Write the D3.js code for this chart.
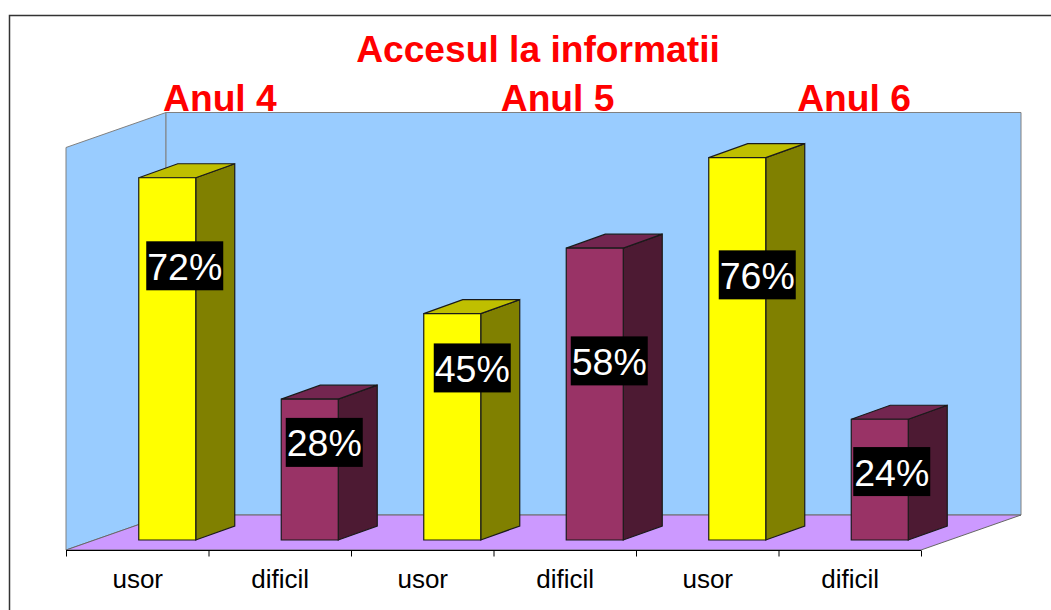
<!DOCTYPE html>
<html>
<head>
<meta charset="utf-8">
<style>
html,body{margin:0;padding:0;background:#fff;overflow:hidden}
svg{display:block}
text{font-family:"Liberation Sans",Arial,sans-serif}
</style>
<script src="https://cdn.jsdelivr.net/npm/d3@7/dist/d3.min.js"></script>
</head>
<body>
<svg id="chart" width="1051" height="610"></svg>
<script>
const categories = ["usor","dificil","usor","dificil","usor","dificil"];
const values = [72,28,45,58,76,24];
const labelLevels = [54.5,19.4,34.2,35.6,52.7,13.6];
const labelShifts = [0,-3,2.5,-3,2.5,-5.5];
const seriesKinds = ["a","b","a","b","a","b"];
const groupTitles = ["Anul 4","Anul 5","Anul 6"];
const groupTitleBands = [1.08,3.45,5.53];
const chartTitle = "Accesul la informatii";
const yTicks = [0,80];

const svg = d3.select("#chart");
const x = d3.scaleBand().domain(d3.range(categories.length)).range([66,921]);
const y = d3.scaleLinear().domain(yTicks).range([550,147.5]);
const wall = {dx:100,dy:-35};
const barFront = {dx:30,dy:-10};
const barDepth = {dx:39,dy:-14};
const barW = 57;
const colors = {
  a:{front:"#ffff00",top:"#bfbf00",side:"#808000"},
  b:{front:"#993366",top:"#732650",side:"#4d1a33"}
};
const line = pts => "M"+pts.map(p=>p.join(",")).join("L")+"Z";
const x0 = x.range()[0], x1 = x.range()[1], yB = y(0), yT = y(80);

// frame
svg.append("path").attr("d",`M9.5,610V15.5H1051`).attr("fill","none").attr("stroke","#333").attr("stroke-width",1.5);

// walls
svg.append("path").attr("d",line([[x0,yB],[x0,yT],[x0+wall.dx,yT+wall.dy],[x0+wall.dx,yB+wall.dy]]))
  .attr("fill","#99ccff").attr("stroke","#808080").attr("stroke-width",1);
svg.append("path").attr("d",line([[x0+wall.dx,yB+wall.dy],[x0+wall.dx,yT+wall.dy],[x1+wall.dx,yT+wall.dy],[x1+wall.dx,yB+wall.dy]]))
  .attr("fill","#99ccff").attr("stroke","#808080").attr("stroke-width",1);
// floor
svg.append("path").attr("d",line([[x0,yB],[x0+wall.dx,yB+wall.dy],[x1+wall.dx,yB+wall.dy],[x1,yB]]))
  .attr("fill","#cc99ff").attr("stroke","#666").attr("stroke-width",1);

// axis
const axis = d3.axisBottom(d3.scaleLinear().domain([0,categories.length]).range([x0,x1]))
  .ticks(categories.length).tickSize(6).tickFormat("");
const ax = svg.append("g").attr("transform",`translate(0,${yB+0.5})`).call(axis);
ax.selectAll("path,line").attr("stroke","#000").attr("stroke-width",1);
ax.select("path").attr("d",`M${x0},0H${x1}`);
svg.selectAll(".cat").data(categories).join("text").attr("class","cat")
  .attr("x",(d,i)=>x(i)+x.bandwidth()/2+0.5).attr("y",588)
  .attr("text-anchor","middle").attr("font-size",26).attr("fill","#000").text(d=>d);

// bars
const bars = svg.selectAll(".bar").data(values).join("g").attr("class","bar");
const bx = i => x(i)+x.bandwidth()/2 - barW/2 + barFront.dx;
const by = v => y(v)+barFront.dy;
function face(sel,fn,col){
  sel.append("path").attr("d",fn).attr("fill",col).attr("stroke","#1a1a1a").attr("stroke-width",1.2);
}
bars.each(function(v,i){
  const g = d3.select(this), c = colors[seriesKinds[i]];
  const l=bx(i), r=l+barW, t=by(v), b=by(0), dx=barDepth.dx, dy=barDepth.dy;
  face(g,()=>line([[r,t],[r+dx,t+dy],[r+dx,b+dy],[r,b]]),c.side);
  face(g,()=>line([[l,t],[l+dx,t+dy],[r+dx,t+dy],[r,t]]),c.top);
  face(g,()=>line([[l,t],[r,t],[r,b],[l,b]]),c.front);
});

// value labels
const lab = svg.selectAll(".val").data(values).join("g").attr("class","val")
  .attr("transform",(d,i)=>`translate(${bx(i)+barW/2+17.5+labelShifts[i]},${by(labelLevels[i])})`);
lab.append("rect").attr("x",-38.5).attr("y",-24.5).attr("width",77).attr("height",49).attr("fill","#000");
lab.append("text").attr("text-anchor","middle").attr("y",14).attr("font-size",37.5).attr("fill","#fff").text(d=>d+"%");

// titles
svg.append("text").attr("x",538).attr("y",62).attr("text-anchor","middle")
  .attr("font-size",37.2).attr("font-weight","bold").attr("fill","#ff0000").text(chartTitle);
svg.selectAll(".grp").data(groupTitles).join("text").attr("class","grp")
  .attr("x",(d,i)=>x0+groupTitleBands[i]*x.bandwidth())
  .attr("y",111).attr("text-anchor","middle")
  .attr("font-size",37.2).attr("font-weight","bold").attr("fill","#ff0000").text(d=>d);
</script>
</body>
</html>
